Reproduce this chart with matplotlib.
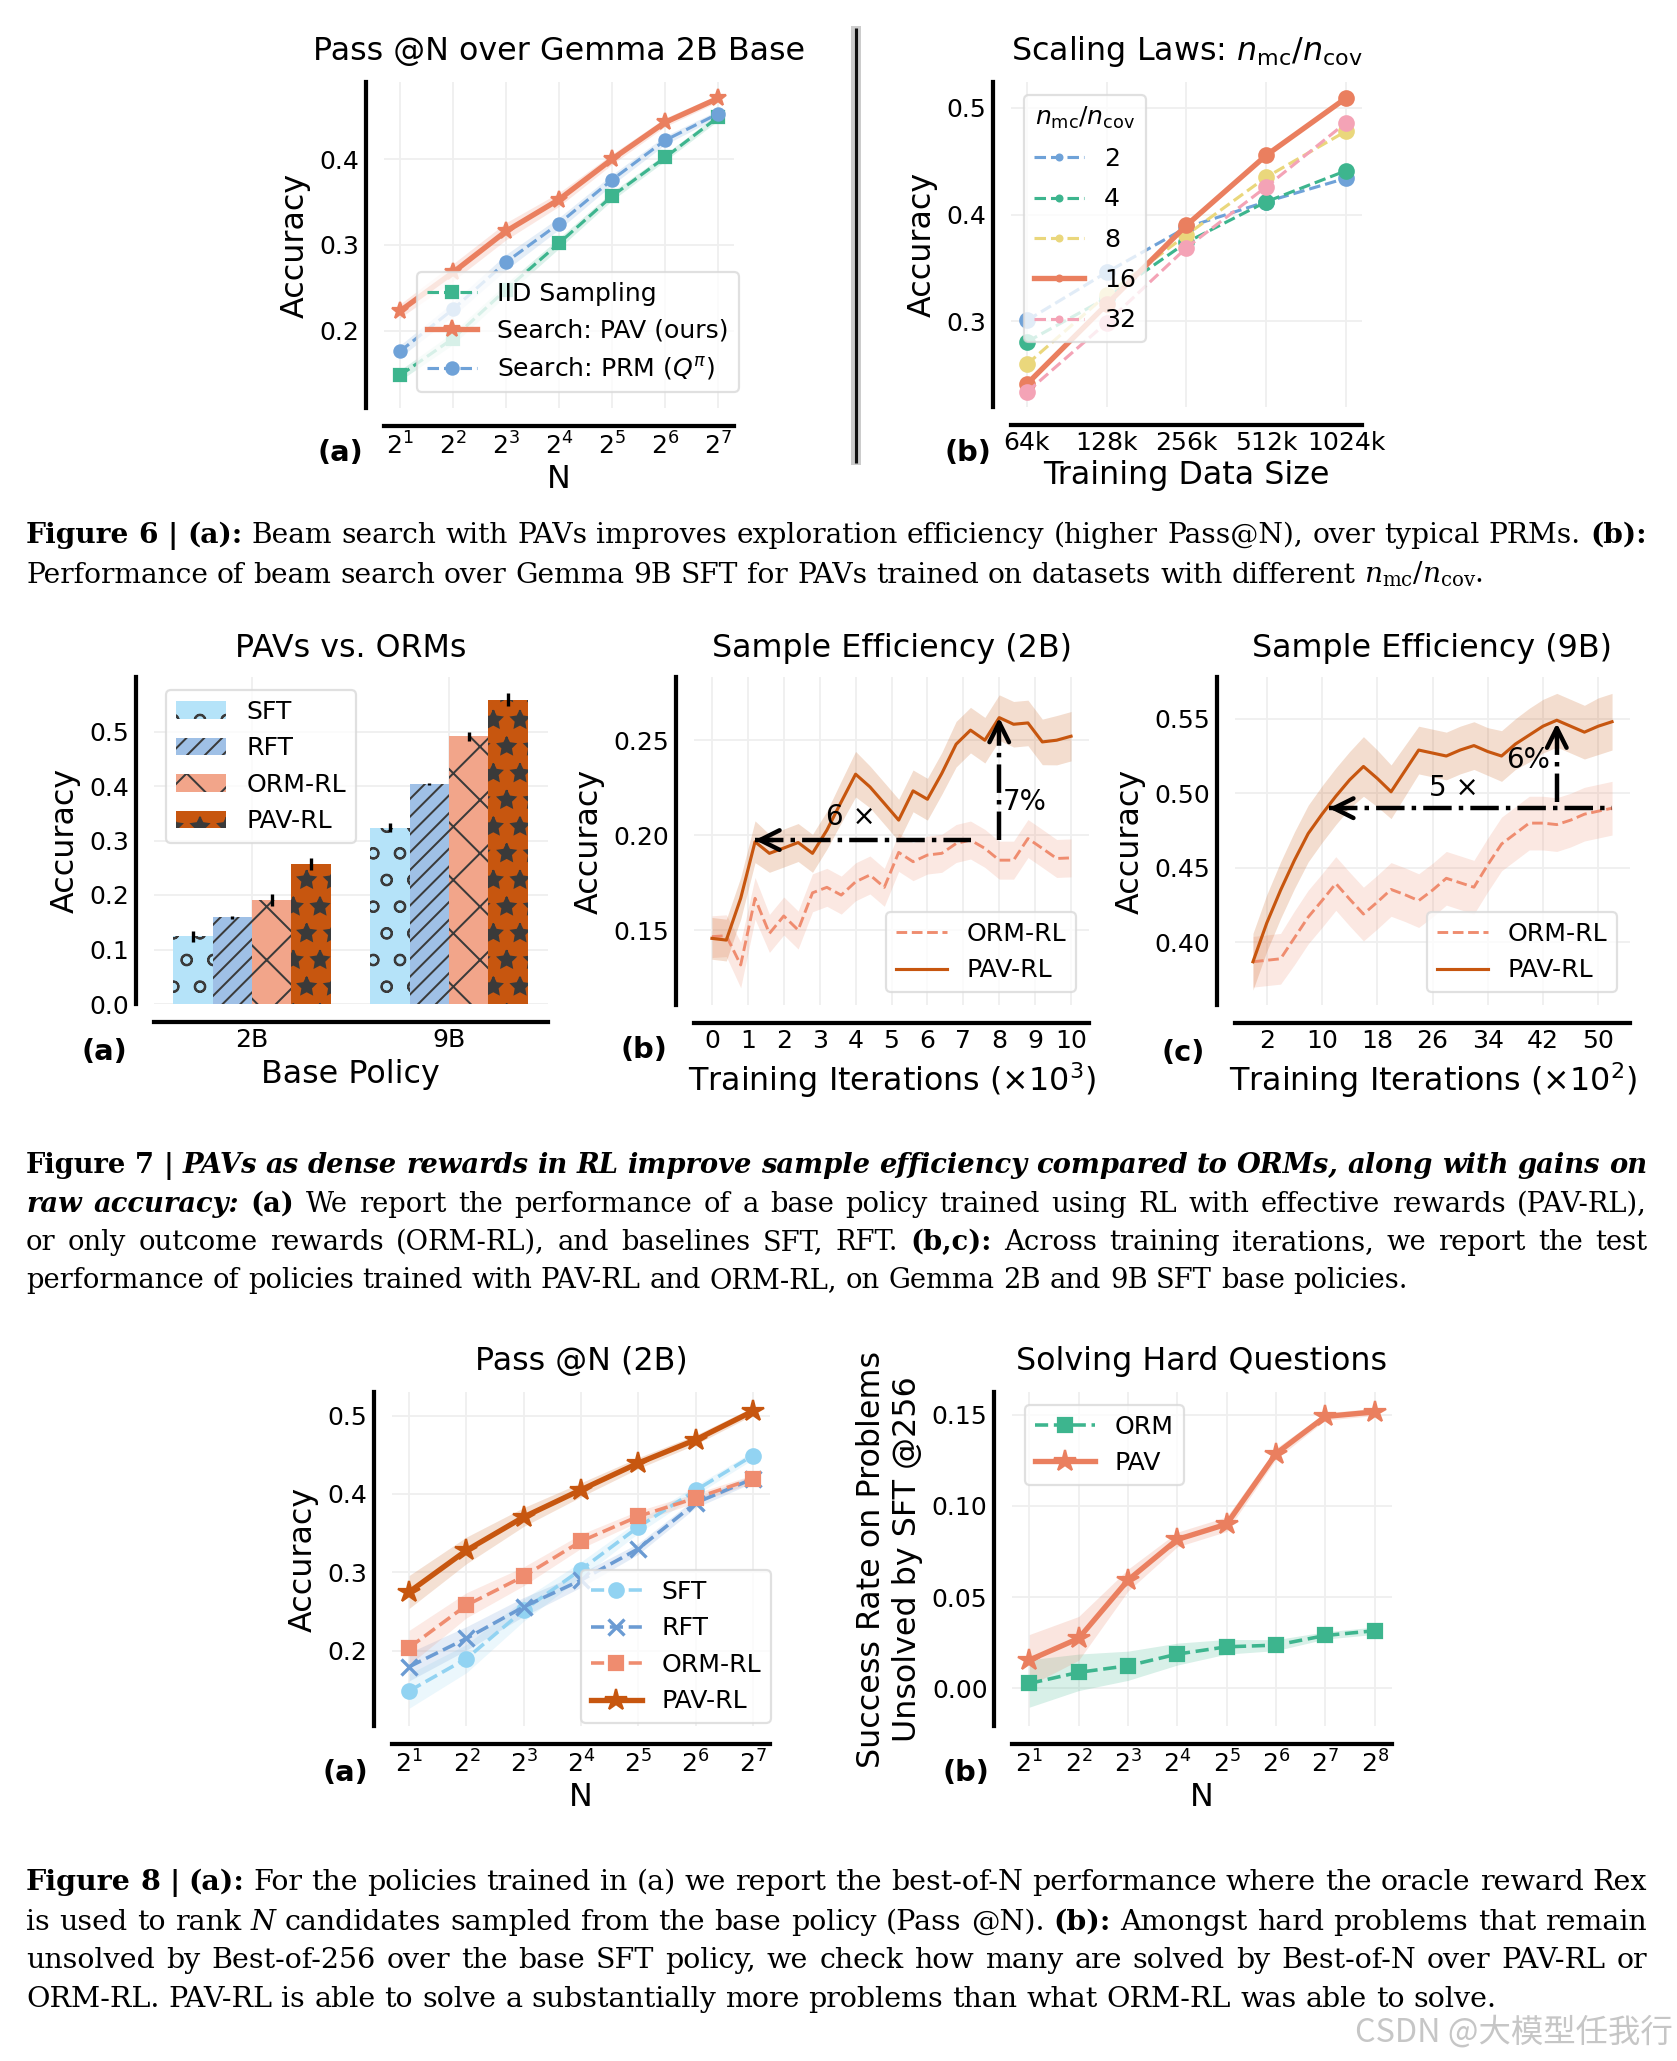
import matplotlib
matplotlib.use('Agg')
import matplotlib.pyplot as plt
import numpy as np
from matplotlib.lines import Line2D
from matplotlib.ticker import NullLocator, FormatStrFormatter

W, H, DPI = 1677, 2061, 160

plt.rcParams['font.family'] = ['DejaVu Sans']
plt.rcParams['hatch.linewidth'] = 0.9

# colours
GREEN = '#3db58e'
ORANGE = '#ea7f5f'
BLUE = '#6fa2d8'
YELLOW = '#ead77c'
PINK = '#f4a3b6'
SKY = '#92d3f2'
STEEL = '#6b9bd3'
SALMON = '#ef8c6f'
RUST = '#c7560f'
BAR_SFT = '#b5e3f9'
BAR_RFT = '#9fc0e6'
BAR_ORM = '#f2a58a'

# ---- Figure 6 (a): Pass@N over Gemma 2B base
pass_n = [2, 4, 8, 16, 32, 64, 128]
iid_acc = [0.148, 0.191, 0.248, 0.302, 0.357, 0.402, 0.449]
iid_err = [0.006, 0.007, 0.007, 0.006, 0.005, 0.004, 0.004]
pav_acc = [0.223, 0.268, 0.316, 0.353, 0.400, 0.443, 0.471]
pav_err = [0.008, 0.010, 0.010, 0.008, 0.006, 0.005, 0.004]
prm_acc = [0.176, 0.225, 0.280, 0.325, 0.376, 0.422, 0.453]
prm_err = [0.007, 0.008, 0.009, 0.007, 0.006, 0.005, 0.004]

# ---- Figure 6 (b): scaling with n_mc / n_cov
data_sizes = ['64k', '128k', '256k', '512k', '1024k']
ratio_labels = ['2', '4', '8', '16', '32']
acc_r2 = [0.301, 0.346, 0.388, 0.412, 0.434]
acc_r4 = [0.281, 0.322, 0.374, 0.412, 0.441]
acc_r8 = [0.260, 0.325, 0.381, 0.435, 0.478]
acc_r16 = [0.2415, 0.316, 0.390, 0.4555, 0.509]
acc_r32 = [0.234, 0.299, 0.369, 0.426, 0.486]

# ---- Figure 7 (a): PAVs vs ORMs
base_policies = ['2B', '9B']
bar_methods = ['SFT', 'RFT', 'ORM-RL', 'PAV-RL']
sft_bar = [0.1245, 0.3236]
sft_bar_err = [0.010, 0.008]
rft_bar = [0.159, 0.403]
rft_bar_err = [0.003, 0.002]
orm_bar = [0.1905, 0.491]
orm_bar_err = [0.011, 0.009]
pav_bar = [0.2576, 0.558]
pav_bar_err = [0.011, 0.012]

# ---- Figure 7 (b): sample efficiency 2B (x 10^3 iterations)
iters_2b = np.arange(0, 10.01, 0.4)
pav_2b = [0.1456, 0.1447, 0.1667, 0.1965, 0.1904, 0.1932, 0.1961, 0.1904, 0.2026,
          0.2175, 0.2321, 0.2254, 0.2167, 0.2079, 0.2233, 0.2189, 0.2325, 0.2479,
          0.2553, 0.2500, 0.2619, 0.2584, 0.2591, 0.2491, 0.2500, 0.2521]
pav_2b_err = [0.011, 0.011, 0.011, 0.011, 0.010, 0.010, 0.010, 0.010, 0.010, 0.011,
              0.012, 0.011, 0.011, 0.011, 0.011, 0.011, 0.011, 0.012, 0.012, 0.012,
              0.012, 0.012, 0.012, 0.012, 0.013, 0.013]
orm_2b = [0.1465, 0.1470, 0.1316, 0.1667, 0.1482, 0.1574, 0.1500, 0.1696, 0.1725,
          0.1684, 0.1754, 0.1790, 0.1725, 0.1909, 0.1860, 0.1895, 0.1904, 0.1956,
          0.1974, 0.1930, 0.1868, 0.1868, 0.1982, 0.1930, 0.1877, 0.1880]
orm_2b_err = [0.011, 0.011, 0.012, 0.011, 0.010, 0.010, 0.010, 0.010, 0.010, 0.010,
              0.010, 0.010, 0.010, 0.010, 0.010, 0.010, 0.010, 0.010, 0.010, 0.010,
              0.010, 0.010, 0.010, 0.010, 0.010, 0.010]

# ---- Figure 7 (c): sample efficiency 9B (x 10^2 iterations)
iters_9b = np.arange(0, 52.1, 2)
pav_9b = [0.387, 0.413, 0.435, 0.455, 0.473, 0.486, 0.498, 0.509, 0.518, 0.510,
          0.501, 0.515, 0.529, 0.527, 0.525, 0.529, 0.532, 0.528, 0.525, 0.533,
          0.539, 0.545, 0.549, 0.545, 0.541, 0.545, 0.548]
pav_9b_err = [0.019, 0.019, 0.019, 0.019, 0.019, 0.019, 0.019, 0.019, 0.020, 0.019,
              0.018, 0.017, 0.016, 0.016, 0.016, 0.016, 0.016, 0.016, 0.017, 0.017,
              0.018, 0.018, 0.018, 0.018, 0.018, 0.019, 0.019]
orm_9b = [0.387, 0.388, 0.389, 0.403, 0.417, 0.428, 0.4395, 0.429, 0.419, 0.427,
          0.4355, 0.432, 0.428, 0.435, 0.443, 0.440, 0.437, 0.452, 0.466, 0.473,
          0.480, 0.480, 0.479, 0.482, 0.486, 0.488, 0.490]
orm_9b_err = [0.017, 0.017, 0.017, 0.018, 0.018, 0.018, 0.018, 0.018, 0.018, 0.018,
              0.018, 0.018, 0.018, 0.018, 0.018, 0.018, 0.018, 0.018, 0.018, 0.018,
              0.018, 0.018, 0.018, 0.018, 0.018, 0.018, 0.018]

# ---- Figure 8 (a): Pass@N (2B)
pass8_n = [2, 4, 8, 16, 32, 64, 128]
sft_pass = [0.1487, 0.190, 0.2518, 0.3035, 0.3578, 0.4045, 0.449]
sft_pass_err = [0.022, 0.018, 0.014, 0.010, 0.008, 0.006, 0.005]
rft_pass = [0.1796, 0.2157, 0.256, 0.290, 0.330, 0.3884, 0.4193]
rft_pass_err = [0.018, 0.015, 0.012, 0.009, 0.007, 0.006, 0.005]
orm_pass = [0.204, 0.258, 0.295, 0.3396, 0.3714, 0.3947, 0.4193]
orm_pass_err = [0.022, 0.016, 0.012, 0.009, 0.007, 0.006, 0.005]
pav_pass = [0.275, 0.328, 0.3706, 0.4053, 0.4393, 0.469, 0.5055]
pav_pass_err = [0.021, 0.017, 0.012, 0.009, 0.007, 0.006, 0.005]

# ---- Figure 8 (b): hard questions
hard_n = [2, 4, 8, 16, 32, 64, 128, 256]
orm_hard = [0.0027, 0.0088, 0.0124, 0.0188, 0.0228, 0.0237, 0.0290, 0.0316]
orm_hard_err = [0.013, 0.010, 0.008, 0.006, 0.004, 0.003, 0.002, 0.002]
pav_hard = [0.0155, 0.0274, 0.0593, 0.0816, 0.0900, 0.1286, 0.1490, 0.1515]
pav_hard_err = [0.014, 0.012, 0.006, 0.004, 0.004, 0.003, 0.002, 0.002]

TICK = 11.3
LAB = 14.3
LEG = 11.3


def make_ax(fig, x0, y0, x1, y1):
    ax = fig.add_axes([x0 / W, 1 - y1 / H, (x1 - x0) / W, (y1 - y0) / H])
    ax.grid(True, color='#efefef', lw=0.8)
    ax.set_axisbelow(True)
    for s in ('top', 'right'):
        ax.spines[s].set_visible(False)
    for s in ('left', 'bottom'):
        ax.spines[s].set_position(('outward', 8))
        ax.spines[s].set_linewidth(1.9)
        ax.spines[s].set_color('black')
    ax.tick_params(length=0, labelsize=TICK, pad=3)
    return ax


def legend(ax, **kw):
    return ax.legend(fontsize=LEG, framealpha=0.8, edgecolor='#d9d9d9', **kw)


def letter(fig, x, y, s):
    fig.text(x / W, 1 - y / H, s, fontsize=13, fontweight='bold', ha='center', va='center')


def band(ax, x, y, e, color, alpha=0.18):
    y = np.asarray(y)
    e = np.asarray(e)
    ax.fill_between(x, y - e, y + e, color=color, alpha=alpha, lw=0)


STYLES = {'r': {}, 'b': {'fontweight': 'bold'}, 'i': {'fontstyle': 'italic'},
          'bi': {'fontweight': 'bold', 'fontstyle': 'italic'}}


def caption(fig, lines, baselines, size=12.8, x0=26, x1=1647):
    r = fig.canvas.get_renderer()
    rows = []
    for line, yb in zip(lines, baselines):
        words = []
        for txt, st in line:
            for w in txt.split():
                t = fig.text(0, 1 - yb / H, w, fontsize=size, family='DejaVu Serif',
                             math_fontfamily='dejavuserif', va='baseline', **STYLES[st])
                words.append(t)
        rows.append(words)
    space = 0.318 * size * DPI / 72
    natural = [sum(t.get_window_extent(r).width for t in ws) + space * (len(ws) - 1) for ws in rows]
    k = min(1.0, (x1 - x0) / max(natural))
    if k < 1.0:
        for ws in rows:
            for t in ws:
                t.set_fontsize(size * k)
        space *= k
    for i, ws in enumerate(rows):
        widths = [t.get_window_extent(r).width for t in ws]
        if i == len(rows) - 1:
            gap = space
        else:
            gap = (x1 - x0 - sum(widths)) / (len(ws) - 1)
        x = x0
        for t, w in zip(ws, widths):
            t.set_x(x / W)
            x += w + gap


fig = plt.figure(figsize=(W / DPI, H / DPI), dpi=DPI)

# ================= Figure 6 (a)
ax = make_ax(fig, 384, 82, 734, 408)
ax.set_xscale('log', base=2)
band(ax, pass_n, iid_acc, iid_err, GREEN)
band(ax, pass_n, pav_acc, pav_err, ORANGE)
band(ax, pass_n, prm_acc, prm_err, BLUE)
ax.plot(pass_n, iid_acc, '--s', color=GREEN, lw=1.4, ms=5, label='IID Sampling')
ax.plot(pass_n, pav_acc, '-*', color=ORANGE, lw=2.4, ms=8, label='Search: PAV (ours)')
ax.plot(pass_n, prm_acc, '--o', color=BLUE, lw=1.4, ms=5.5, label=r'Search: PRM ($Q^{\pi}$)')
ax.set_xticks(pass_n)
ax.xaxis.set_minor_locator(NullLocator())
ax.set_ylim(0.11, 0.49)
ax.set_yticks([0.2, 0.3, 0.4])
ax.set_title('Pass @N over Gemma 2B Base', fontsize=LAB, pad=10)
ax.set_xlabel('N', fontsize=LAB, labelpad=2)
ax.set_ylabel('Accuracy', fontsize=LAB)
legend(ax, loc='lower right', bbox_to_anchor=(1.05, 0.01))
letter(fig, 340, 453, '(a)')

# ================= Figure 6 (b)
ax = make_ax(fig, 1011, 82, 1362, 407)
xs = np.arange(len(data_sizes))
series6b = [(acc_r2, BLUE, '--', 1.4), (acc_r4, GREEN, '--', 1.4), (acc_r8, YELLOW, '--', 1.4),
            (acc_r16, ORANGE, '-', 2.4), (acc_r32, PINK, '--', 1.4)]
for (vals, col, ls, lw), lab in zip(series6b, ratio_labels):
    ax.plot(xs, vals, ls, marker='o', ms=6.5, color=col, lw=lw, label=lab)
ax.set_xticks(xs, data_sizes)
ax.set_ylim(0.22, 0.524)
ax.set_yticks([0.3, 0.4, 0.5])
ax.set_title(r'Scaling Laws: $n_{\mathrm{mc}}/n_{\mathrm{cov}}$', fontsize=LAB, pad=10)
ax.set_xlabel('Training Data Size', fontsize=LAB, labelpad=2)
ax.set_ylabel('Accuracy', fontsize=LAB)
legend(ax, loc='upper left', title=r'$n_{\mathrm{mc}}/n_{\mathrm{cov}}$', title_fontsize=LEG,
       markerscale=0.4, labelspacing=0.65)
letter(fig, 968, 453, '(b)')

# divider between the two panels of figure 6
fig.add_artist(Line2D([856 / W] * 2, [1 - 26 / H, 1 - 465 / H], color='#cccccc', lw=4.5,
                      solid_capstyle='butt'))
fig.add_artist(Line2D([856 / W] * 2, [1 - 28 / H, 1 - 463 / H], color='#111111', lw=1.4,
                      solid_capstyle='butt'))

# ================= Figure 7 (a)
ax = make_ax(fig, 153.5, 677, 547.5, 1004)
xb = np.arange(len(base_policies))
bars = [(sft_bar, sft_bar_err, BAR_SFT, 'o'), (rft_bar, rft_bar_err, BAR_RFT, '///'),
        (orm_bar, orm_bar_err, BAR_ORM, 'x'), (pav_bar, pav_bar_err, RUST, '*')]
for j, ((vals, err, col, hatch), lab) in enumerate(zip(bars, bar_methods)):
    ax.bar(xb + (j - 1.5) * 0.2, vals, 0.2, yerr=err, color=col, hatch=hatch,
           edgecolor='#3a3a3a', lw=0, label=lab,
           error_kw=dict(elinewidth=1.5, ecolor='black', capsize=0))
ax.set_xticks(xb, base_policies)
ax.set_xlim(-0.5, 1.5)
ax.set_ylim(0, 0.6)
ax.set_yticks([0.0, 0.1, 0.2, 0.3, 0.4, 0.5])
ax.set_title('PAVs vs. ORMs', fontsize=LAB, pad=9)
ax.set_xlabel('Base Policy', fontsize=LAB, labelpad=3)
ax.set_ylabel('Accuracy', fontsize=LAB)
legend(ax, loc='upper left')
letter(fig, 104, 1052, '(a)')

# ================= Figure 7 (b)
ax = make_ax(fig, 694, 677, 1089, 1005)
band(ax, iters_2b, orm_2b, orm_2b_err, SALMON, 0.2)
band(ax, iters_2b, pav_2b, pav_2b_err, RUST, 0.2)
ax.plot(iters_2b, orm_2b, '--', color=SALMON, lw=1.3, label='ORM-RL')
ax.plot(iters_2b, pav_2b, '-', color=RUST, lw=1.4, label='PAV-RL')
y_ref = orm_2b[18]
ax.plot([iters_2b[3], iters_2b[18]], [y_ref, y_ref], color='black', lw=2, ls='-.')
ax.annotate('', xy=(iters_2b[3], y_ref), xytext=(iters_2b[3] + 0.5, y_ref),
            arrowprops=dict(arrowstyle='->', color='black', lw=2, shrinkA=0, shrinkB=0,
                            mutation_scale=22))
ax.plot([iters_2b[20]] * 2, [y_ref, pav_2b[20] - 0.004], color='black', lw=2, ls='-.')
ax.annotate('', xy=(iters_2b[20], pav_2b[20]), xytext=(iters_2b[20], pav_2b[20] - 0.006),
            arrowprops=dict(arrowstyle='->', color='black', lw=2, shrinkA=0, shrinkB=0,
                            mutation_scale=22))
ax.text(3.87, 0.2096, '6 \u00d7', fontsize=12.5, ha='center', va='center')
ax.text(8.09, 0.2175, '7%', fontsize=12.5, ha='left', va='center')
ax.set_xticks(range(0, 11))
ax.set_ylim(0.1105, 0.2833)
ax.set_yticks([0.15, 0.20, 0.25])
ax.yaxis.set_major_formatter(FormatStrFormatter('%.2f'))
ax.set_title('Sample Efficiency (2B)', fontsize=LAB, pad=9)
ax.set_xlabel(r'Training Iterations ($\times 10^3$)', fontsize=LAB, labelpad=3)
ax.set_ylabel('Accuracy', fontsize=LAB)
legend(ax, loc='lower right')
letter(fig, 644, 1050, '(b)')

# ================= Figure 7 (c)
ax = make_ax(fig, 1235, 677, 1630, 1005)
band(ax, iters_9b, orm_9b, orm_9b_err, SALMON, 0.2)
band(ax, iters_9b, pav_9b, pav_9b_err, RUST, 0.2)
ax.plot(iters_9b, orm_9b, '--', color=SALMON, lw=1.3, label='ORM-RL')
ax.plot(iters_9b, pav_9b, '-', color=RUST, lw=1.4, label='PAV-RL')
y_ref9 = orm_9b[-1]
x_hit = 11
ax.plot([x_hit, iters_9b[-1]], [y_ref9, y_ref9], color='black', lw=2, ls='-.')
ax.annotate('', xy=(x_hit, y_ref9), xytext=(x_hit + 2.5, y_ref9),
            arrowprops=dict(arrowstyle='->', color='black', lw=2, shrinkA=0, shrinkB=0,
                            mutation_scale=22))
ax.plot([iters_9b[22]] * 2, [y_ref9 + 0.004, pav_9b[22] - 0.008], color='black', lw=2, ls='-.')
ax.annotate('', xy=(iters_9b[22], pav_9b[22] - 0.002), xytext=(iters_9b[22], pav_9b[22] - 0.012),
            arrowprops=dict(arrowstyle='->', color='black', lw=2, shrinkA=0, shrinkB=0,
                            mutation_scale=22))
ax.text(29.1, 0.5036, '5 \u00d7', fontsize=12.5, ha='center', va='center')
ax.text(39.9, 0.522, '6%', fontsize=12.5, ha='center', va='center')
ax.set_xticks([2, 10, 18, 26, 34, 42, 50])
ax.set_ylim(0.358, 0.578)
ax.set_yticks([0.40, 0.45, 0.50, 0.55])
ax.yaxis.set_major_formatter(FormatStrFormatter('%.2f'))
ax.set_title('Sample Efficiency (9B)', fontsize=LAB, pad=9)
ax.set_xlabel(r'Training Iterations ($\times 10^2$)', fontsize=LAB, labelpad=3)
ax.set_ylabel('Accuracy', fontsize=LAB)
legend(ax, loc='lower right')
letter(fig, 1183, 1053, '(c)')

# ================= Figure 8 (a)
ax = make_ax(fig, 392, 1392, 770, 1726)
ax.set_xscale('log', base=2)
band(ax, pass8_n, sft_pass, sft_pass_err, SKY)
band(ax, pass8_n, rft_pass, rft_pass_err, STEEL)
band(ax, pass8_n, orm_pass, orm_pass_err, SALMON)
band(ax, pass8_n, pav_pass, pav_pass_err, RUST)
ax.plot(pass8_n, sft_pass, '--o', color=SKY, lw=1.6, ms=6.5, label='SFT')
ax.plot(pass8_n, rft_pass, '--x', color=STEEL, lw=1.6, ms=7, mew=1.5, label='RFT')
ax.plot(pass8_n, orm_pass, '--s', color=SALMON, lw=1.6, ms=6.5, label='ORM-RL')
ax.plot(pass8_n, pav_pass, '-*', color=RUST, lw=2.4, ms=10, label='PAV-RL')
ax.set_xticks(pass8_n)
ax.xaxis.set_minor_locator(NullLocator())
ax.set_ylim(0.104, 0.53)
ax.set_yticks([0.2, 0.3, 0.4, 0.5])
ax.set_title('Pass @N (2B)', fontsize=LAB, pad=10)
ax.set_xlabel('N', fontsize=LAB, labelpad=2)
ax.set_ylabel('Accuracy', fontsize=LAB)
legend(ax, loc='lower right', bbox_to_anchor=(1.01, 0.0), borderaxespad=0.1)
letter(fig, 345, 1773, '(a)')

# ================= Figure 8 (b)
ax = make_ax(fig, 1012, 1392, 1392, 1726)
ax.set_xscale('log', base=2)
band(ax, hard_n, orm_hard, orm_hard_err, GREEN, 0.2)
band(ax, hard_n, pav_hard, pav_hard_err, ORANGE, 0.2)
ax.plot(hard_n, orm_hard, '--s', color=GREEN, lw=1.6, ms=6.5, label='ORM')
ax.plot(hard_n, pav_hard, '-*', color=ORANGE, lw=2.4, ms=10, label='PAV')
ax.set_xticks(hard_n)
ax.xaxis.set_minor_locator(NullLocator())
ax.set_ylim(-0.0206, 0.1624)
ax.set_yticks([0.00, 0.05, 0.10, 0.15])
ax.yaxis.set_major_formatter(FormatStrFormatter('%.2f'))
ax.set_title('Solving Hard Questions', fontsize=LAB, pad=10)
ax.set_xlabel('N', fontsize=LAB, labelpad=2)
ax.set_ylabel('Success Rate on Problems\nUnsolved by SFT @256', fontsize=LAB)
legend(ax, loc='upper left', handlelength=2.4)
letter(fig, 966, 1773, '(b)')

# ================= captions
cap6 = [
    [('Figure 6 | (a):', 'b'),
     ('Beam search with PAVs improves exploration efficiency (higher Pass@N), over typical PRMs.', 'r'),
     ('(b):', 'b')],
    [('Performance of beam search over Gemma 9B SFT for PAVs trained on datasets with different', 'r'),
     (r'$n_{\mathrm{mc}}/n_{\mathrm{cov}}$.', 'r')],
]
cap7 = [
    [('Figure 7 |', 'b'),
     ('PAVs as dense rewards in RL improve sample efficiency compared to ORMs, along with gains on', 'bi')],
    [('raw accuracy:', 'bi'), ('(a)', 'b'),
     ('We report the performance of a base policy trained using RL with effective rewards (PAV-RL),', 'r')],
    [('or only outcome rewards (ORM-RL), and baselines SFT, RFT.', 'r'), ('(b,c):', 'b'),
     ('Across training iterations, we report the test', 'r')],
    [('performance of policies trained with PAV-RL and ORM-RL, on Gemma 2B and 9B SFT base policies.', 'r')],
]
cap8 = [
    [('Figure 8 | (a):', 'b'),
     ('For the policies trained in (a) we report the best-of-N performance where the oracle reward Rex', 'r')],
    [('is used to rank', 'r'), ('N', 'i'), ('candidates sampled from the base policy (Pass @N).', 'r'),
     ('(b):', 'b'), ('Amongst hard problems that remain', 'r')],
    [('unsolved by Best-of-256 over the base SFT policy, we check how many are solved by Best-of-N over PAV-RL or', 'r')],
    [('ORM-RL. PAV-RL is able to solve a substantially more problems than what ORM-RL was able to solve.', 'r')],
]
caption(fig, cap6, [543, 583])
caption(fig, cap7, [1173, 1212, 1250, 1288])
caption(fig, cap8, [1890, 1930, 1968, 2007])

fig.text(1355 / W, 1 - 2042 / H, 'CSDN @大模型任我行', fontsize=14.6, color='#c6c6c6',
         family=['Noto Sans CJK SC', 'DejaVu Sans'], va='baseline')

fig.savefig('out.png', dpi=DPI)
